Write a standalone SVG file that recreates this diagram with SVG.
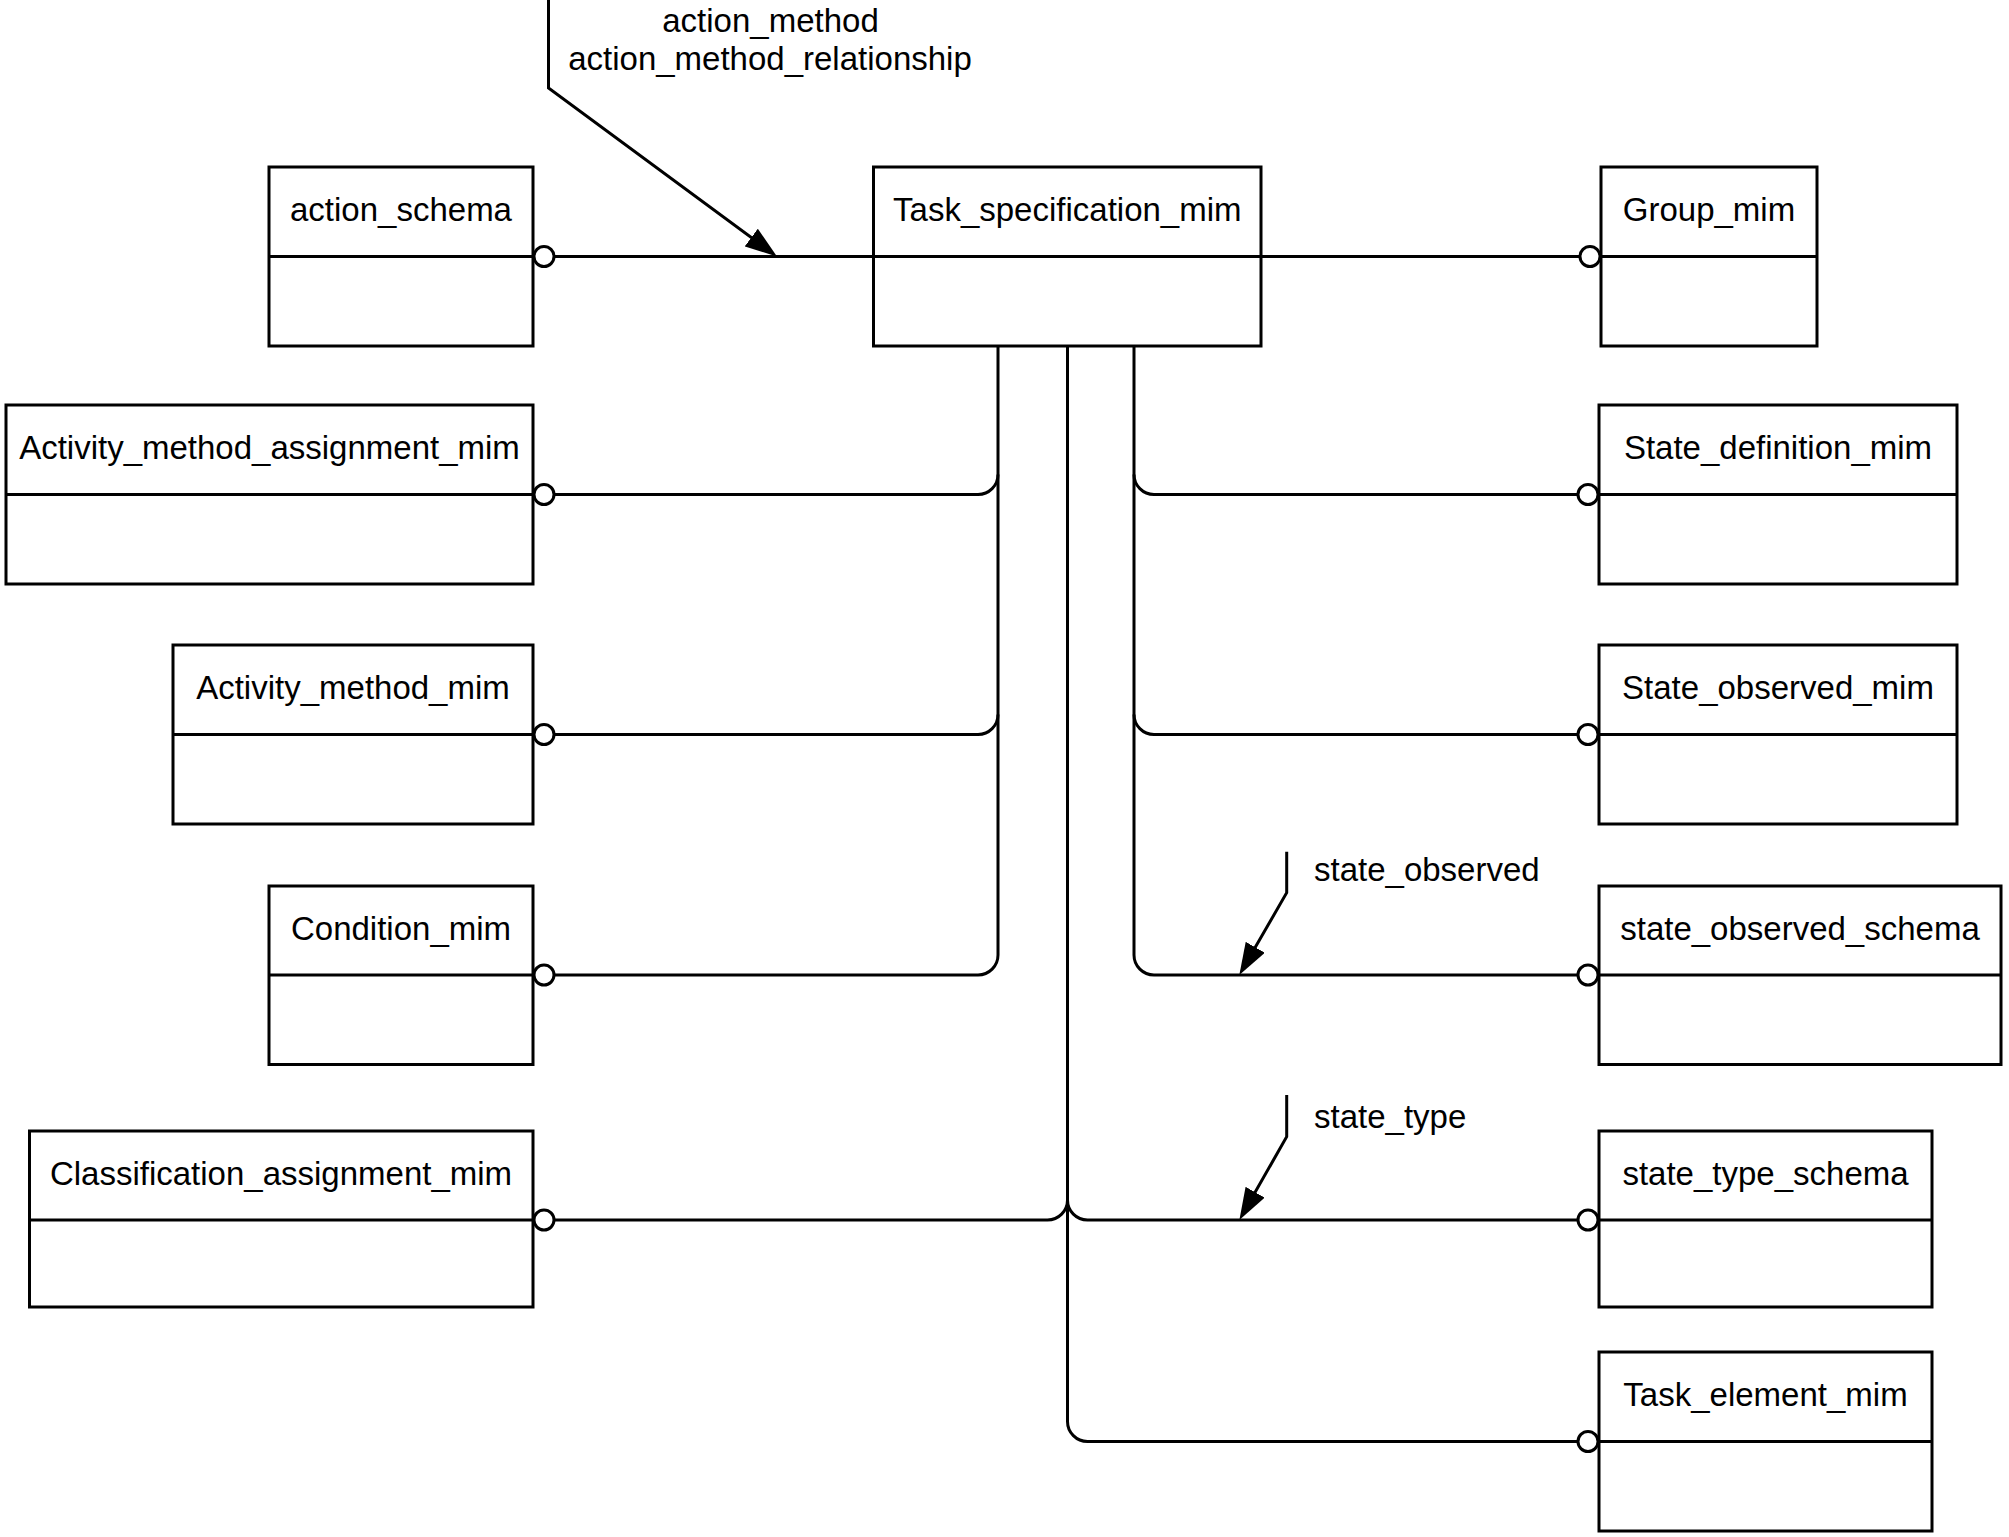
<svg xmlns="http://www.w3.org/2000/svg" width="2009" height="1537" viewBox="0 0 2009 1537">
<style>
.box{fill:#fff;stroke:#000;stroke-width:3}
.div{stroke:#000;stroke-width:3}
.lbl{font-family:"Liberation Sans",Arial,sans-serif;font-size:33px;fill:#000;text-anchor:middle}
.note{font-family:"Liberation Sans",Arial,sans-serif;font-size:33px;fill:#000}
.note-c{text-anchor:middle}
.con{fill:none;stroke:#000;stroke-width:3}
.dot{fill:#fff;stroke:#000;stroke-width:3}
</style>
<defs>
<marker id="arrow" markerUnits="userSpaceOnUse" markerWidth="32" markerHeight="22" viewBox="0 0 32 22" refX="24" refY="11" orient="auto">
<path d="M0,0 L32,11 L0,22 z" fill="#000"/>
</marker>
</defs>
<rect x="0" y="0" width="2009" height="1537" fill="#fff"/>

<g id="connectors">
<path class="con" d="M544 256.5 H1589"/>
<path class="con" d="M998 346 V955 A20 20 0 0 1 978 975 H544"/>
<path class="con" d="M998 474.5 A20 20 0 0 1 978 494.5 H544"/>
<path class="con" d="M998 714.5 A20 20 0 0 1 978 734.5 H544"/>
<path class="con" d="M1134 346 V955 A20 20 0 0 0 1154 975 H1589"/>
<path class="con" d="M1134 474.5 A20 20 0 0 0 1154 494.5 H1589"/>
<path class="con" d="M1134 714.5 A20 20 0 0 0 1154 734.5 H1589"/>
<path class="con" d="M1067.5 346 V1421.5 A20 20 0 0 0 1087.5 1441.5 H1589"/>
<path class="con" d="M1067.5 1200 A20 20 0 0 1 1047.5 1220 H544"/>
<path class="con" d="M1067.5 1200 A20 20 0 0 0 1087.5 1220 H1589"/>
<polyline class="con" points="548.5,0 548.5,88 770.6,251.8" marker-end="url(#arrow)"/>
<polyline class="con" points="1286.7,851.7 1286.7,892.7 1243.3,968.1" marker-end="url(#arrow)"/>
<polyline class="con" points="1286.7,1095 1286.7,1136.7 1243.3,1213.1" marker-end="url(#arrow)"/>
<text class="note note-c" x="770.5" y="31.5">action_method</text>
<text class="note note-c" x="770" y="70">action_method_relationship</text>
<text class="note" x="1314" y="880.7">state_observed</text>
<text class="note" x="1314" y="1128">state_type</text>
</g>

<g id="action_schema">
<rect class="box" x="269" y="167" width="264" height="179"/>
<line class="div" x1="269" y1="256.5" x2="533" y2="256.5"/>
<text class="lbl" x="401" y="221">action_schema</text>
</g>
<g id="Task_specification_mim">
<rect class="box" x="873.5" y="167" width="387.5" height="179"/>
<line class="div" x1="873.5" y1="256.5" x2="1261" y2="256.5"/>
<text class="lbl" x="1067.3" y="221">Task_specification_mim</text>
</g>
<g id="Group_mim">
<rect class="box" x="1601" y="167" width="216" height="179"/>
<line class="div" x1="1601" y1="256.5" x2="1817" y2="256.5"/>
<text class="lbl" x="1709" y="221">Group_mim</text>
</g>
<g id="Activity_method_assignment_mim">
<rect class="box" x="6" y="405" width="527" height="179"/>
<line class="div" x1="6" y1="494.5" x2="533" y2="494.5"/>
<text class="lbl" x="269.5" y="459">Activity_method_assignment_mim</text>
</g>
<g id="State_definition_mim">
<rect class="box" x="1599" y="405" width="358" height="179"/>
<line class="div" x1="1599" y1="494.5" x2="1957" y2="494.5"/>
<text class="lbl" x="1778" y="459">State_definition_mim</text>
</g>
<g id="Activity_method_mim">
<rect class="box" x="173" y="645" width="360" height="179"/>
<line class="div" x1="173" y1="734.5" x2="533" y2="734.5"/>
<text class="lbl" x="353" y="699">Activity_method_mim</text>
</g>
<g id="State_observed_mim">
<rect class="box" x="1599" y="645" width="358" height="179"/>
<line class="div" x1="1599" y1="734.5" x2="1957" y2="734.5"/>
<text class="lbl" x="1778" y="699">State_observed_mim</text>
</g>
<g id="Condition_mim">
<rect class="box" x="269" y="886" width="264" height="178.5"/>
<line class="div" x1="269" y1="975" x2="533" y2="975"/>
<text class="lbl" x="401" y="940">Condition_mim</text>
</g>
<g id="state_observed_schema">
<rect class="box" x="1599" y="886" width="402" height="178.5"/>
<line class="div" x1="1599" y1="975" x2="2001" y2="975"/>
<text class="lbl" x="1800" y="940">state_observed_schema</text>
</g>
<g id="Classification_assignment_mim">
<rect class="box" x="29.5" y="1131" width="503.5" height="176"/>
<line class="div" x1="29.5" y1="1220" x2="533" y2="1220"/>
<text class="lbl" x="281" y="1185">Classification_assignment_mim</text>
</g>
<g id="state_type_schema">
<rect class="box" x="1599" y="1131" width="333" height="176"/>
<line class="div" x1="1599" y1="1220" x2="1932" y2="1220"/>
<text class="lbl" x="1765.5" y="1185">state_type_schema</text>
</g>
<g id="Task_element_mim">
<rect class="box" x="1599" y="1352" width="333" height="179"/>
<line class="div" x1="1599" y1="1441.5" x2="1932" y2="1441.5"/>
<text class="lbl" x="1765.5" y="1406">Task_element_mim</text>
</g>

<g id="end_circles">
<circle class="dot" cx="544" cy="256.5" r="10"/>
<circle class="dot" cx="1590" cy="256.5" r="10"/>
<circle class="dot" cx="544" cy="494.5" r="10"/>
<circle class="dot" cx="1588" cy="494.5" r="10"/>
<circle class="dot" cx="544" cy="734.5" r="10"/>
<circle class="dot" cx="1588" cy="734.5" r="10"/>
<circle class="dot" cx="544" cy="975" r="10"/>
<circle class="dot" cx="1588" cy="975" r="10"/>
<circle class="dot" cx="544" cy="1220" r="10"/>
<circle class="dot" cx="1588" cy="1220" r="10"/>
<circle class="dot" cx="1588" cy="1441.5" r="10"/>
</g>
</svg>
